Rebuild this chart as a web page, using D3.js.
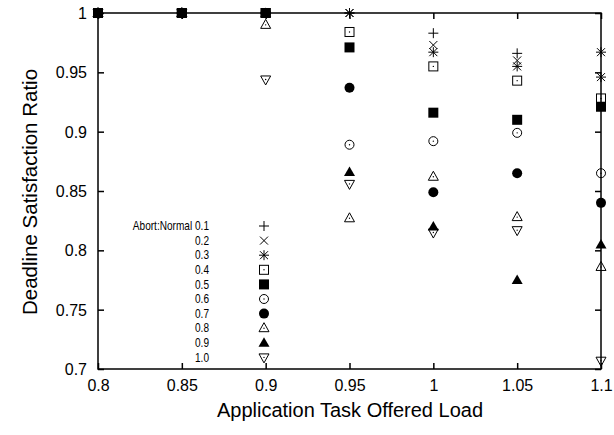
<!DOCTYPE html>
<html><head><meta charset="utf-8">
<script src="https://d3js.org/d3.v7.min.js"></script>
<style>body{margin:0;background:#fff}svg{display:block}</style>
</head><body><div id="c"></div>
<script>
const loads = [0.8, 0.85, 0.9, 0.95, 1.0, 1.05, 1.1];
const ratioLabels = ["Abort:Normal 0.1","0.2","0.3","0.4","0.5","0.6","0.7","0.8","0.9","1.0"];
const s01 = [1,1,1,1,0.983,0.966,0.946];
const s02 = [1,1,1,1,0.973,0.960,0.946];
const s03 = [1,1,1,1,0.967,0.955,0.967];
const s04 = [1,1,1,0.984,0.955,0.943,0.928];
const s05 = [1,1,1,0.971,0.916,0.910,0.921];
const s06 = [1,1,1,0.889,0.892,0.899,0.865];
const s07 = [1,1,1,0.937,0.849,0.865,0.840];
const s08 = [1,1,0.990,0.827,0.862,0.828,0.786];
const s09 = [1,1,1,0.866,0.820,0.775,0.805];
const s10 = [1,1,0.944,0.856,0.815,0.817,0.707];
const markers = ["plus","cross","star","osquare","fsquare","ocircle","fcircle","otri","ftri","odtri"];
const xTicks = [0.8,0.85,0.9,0.95,1,1.05,1.1];
const yTicks = [0.7,0.75,0.8,0.85,0.9,0.95,1];
const series = [s01,s02,s03,s04,s05,s06,s07,s08,s09,s10];

const W=614,H=435, L=98, R=601, T=13, B=369;
const svg=d3.select("#c").append("svg").attr("width",W).attr("height",H);
const x=d3.scaleLinear().domain([0.8,1.1]).range([L,R]);
const y=d3.scaleLinear().domain([0.7,1]).range([B,T]);
const font="'Liberation Sans', Arial, Helvetica, sans-serif";

svg.append("rect").attr("x",L).attr("y",T).attr("width",R-L).attr("height",B-T)
  .attr("fill","none").attr("stroke","#000").attr("stroke-width",1.5);

const fmt=d=>d===1?"1":String(d);
const ax=svg.append("g").attr("transform",`translate(0,${B})`)
  .call(d3.axisBottom(x).tickValues(xTicks).tickSize(-6).tickSizeOuter(0).tickPadding(11).tickFormat(fmt));
const axT=svg.append("g").attr("transform",`translate(0,${T})`)
  .call(d3.axisTop(x).tickValues(xTicks).tickSize(-6).tickSizeOuter(0).tickFormat(""));
const ay=svg.append("g").attr("transform",`translate(${L},0)`)
  .call(d3.axisLeft(y).tickValues(yTicks).tickSize(-6).tickSizeOuter(0).tickPadding(11).tickFormat(fmt));
const ayR=svg.append("g").attr("transform",`translate(${R},0)`)
  .call(d3.axisRight(y).tickValues(yTicks).tickSize(-6).tickSizeOuter(0).tickFormat(""));
[ax,axT,ay,ayR].forEach(g=>{g.select(".domain").remove();
  g.selectAll("line").attr("stroke","#000").attr("stroke-width",1.5);
  g.selectAll("text").attr("font-family",font).attr("font-size",16).attr("fill","#000");});
ay.selectAll("text").attr("dy","0.35em");

svg.append("text").attr("x",350).attr("y",417).attr("text-anchor","middle")
  .attr("font-family",font).attr("font-size",20).text("Application Task Offered Load");
svg.append("text").attr("transform","translate(37,192) rotate(-90)").attr("text-anchor","middle")
  .attr("font-family",font).attr("font-size",20.5).text("Deadline Satisfaction Ratio");

function marker(g,type,cx,cy){
  const s=5, sw=1;
  const p=g.append("g").attr("transform",`translate(${cx},${cy})`);
  const line=(x1,y1,x2,y2)=>p.append("line").attr("x1",x1).attr("y1",y1).attr("x2",x2).attr("y2",y2).attr("stroke","#000").attr("stroke-width",sw);
  const dot=()=>p.append("circle").attr("r",0.7).attr("fill","#000");
  switch(type){
    case "plus": line(-s,0,s,0); line(0,-s,0,s); break;
    case "cross": line(-s*0.8,-s*0.8,s*0.8,s*0.8); line(-s*0.8,s*0.8,s*0.8,-s*0.8); break;
    case "star": line(-s,0,s,0); line(0,-s,0,s); line(-s*0.8,-s*0.8,s*0.8,s*0.8); line(-s*0.8,s*0.8,s*0.8,-s*0.8); break;
    case "osquare": p.append("rect").attr("x",-4.5).attr("y",-4.5).attr("width",9).attr("height",9).attr("fill","none").attr("stroke","#000").attr("stroke-width",sw); dot(); break;
    case "fsquare": p.append("rect").attr("x",-5).attr("y",-5).attr("width",10).attr("height",10).attr("fill","#000"); break;
    case "ocircle": p.append("circle").attr("r",4.5).attr("fill","none").attr("stroke","#000").attr("stroke-width",sw); dot(); break;
    case "fcircle": p.append("circle").attr("r",5).attr("fill","#000"); break;
    case "otri": p.append("path").attr("d","M0,-5.5L5,3.5L-5,3.5Z").attr("fill","none").attr("stroke","#000").attr("stroke-width",sw); dot(); break;
    case "ftri": p.append("path").attr("d","M0,-5.5L5.5,4L-5.5,4Z").attr("fill","#000"); break;
    case "odtri": p.append("path").attr("d","M0,5.5L5,-3.5L-5,-3.5Z").attr("fill","none").attr("stroke","#000").attr("stroke-width",sw); dot(); break;
  }
}

const pts=svg.append("g");
series.forEach((vals,i)=>{
  vals.forEach((v,j)=>marker(pts,markers[i],x(loads[j]),y(v)));
});

const lg=svg.append("g");
ratioLabels.forEach((t,i)=>{
  const yy=226+i*14.6;
  lg.append("text").attr("transform",`translate(209,${yy}) scale(0.84,1)`).attr("dy","0.35em").attr("text-anchor","end")
    .attr("font-family",font).attr("font-size",12).text(t);
  marker(lg,markers[i],264,yy);
});
</script></body></html>
